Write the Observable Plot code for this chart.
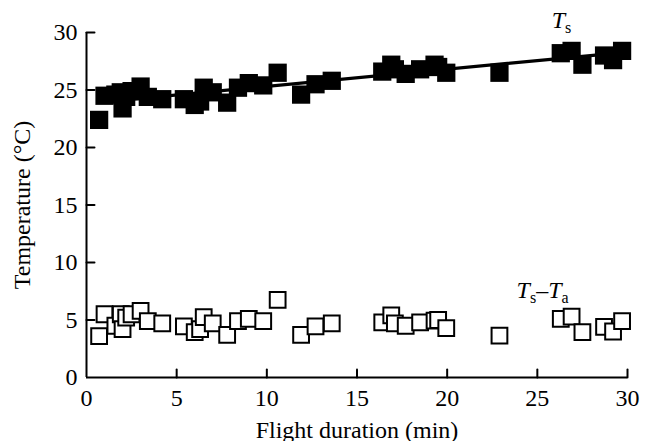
<!DOCTYPE html>
<html><head><meta charset="utf-8">
<script src="https://cdn.jsdelivr.net/npm/d3@7"></script>
<script src="https://cdn.jsdelivr.net/npm/@observablehq/plot@0.6"></script>
<style>body{margin:0;background:#fff}</style>
</head><body><div id="chart"></div>
<script>
// Flight duration (min) for each sample
const flightTime = [0.7, 1.0, 1.6, 1.9, 2.0, 2.2, 2.5, 3.0, 3.4, 4.2, 5.4, 6.0, 6.3, 6.5, 7.0, 7.8, 8.4, 9.0, 9.8, 10.6, 11.9, 12.7, 13.6, 16.4, 16.9, 17.1, 17.7, 18.5, 19.3, 19.5, 19.95, 22.9, 26.3, 26.9, 27.5, 28.7, 29.2, 29.7];
// Ts (filled squares)
const surfaceTemp = [22.4, 24.5, 24.6, 24.8, 23.4, 24.4, 24.9, 25.3, 24.4, 24.2, 24.2, 23.7, 24.0, 25.2, 24.8, 23.9, 25.2, 25.6, 25.4, 26.5, 24.6, 25.5, 25.8, 26.6, 27.2, 26.8, 26.4, 26.8, 27.2, 27.0, 26.5, 26.5, 28.2, 28.4, 27.2, 28.0, 27.6, 28.4];
// Ts - Ta (open squares)
const tempDiff = [3.6, 5.5, 4.5, 5.5, 4.2, 5.2, 5.5, 5.8, 4.9, 4.7, 4.45, 3.95, 4.2, 5.25, 4.7, 3.7, 4.9, 5.1, 4.9, 6.75, 3.7, 4.45, 4.7, 4.8, 5.4, 4.7, 4.5, 4.8, 4.95, 5.0, 4.3, 3.65, 5.1, 5.3, 3.95, 4.4, 4.0, 4.9];
const xTicks = [0, 5, 10, 15, 20, 25, 30];
const yTicks = [0, 5, 10, 15, 20, 25, 30];
const xLabel = "Flight duration (min)";
const yLabel = "Temperature (°C)";
const seriesLabels = ["T_s", "T_s–T_a"];

const rows = flightTime.map((t, i) => ({t, ts: surfaceTemp[i], d: tempDiff[i]}));
const tickShape = {draw(ctx, l) { ctx.moveTo(0, 0); ctx.lineTo(0, -l); }};

const chart = Plot.plot({
  width: 653, height: 441,
  marginLeft: 86, marginRight: 26, marginTop: 32, marginBottom: 64,
  style: {fontFamily: "'Liberation Serif', serif", fontSize: "24px", background: "#fff", color: "#000"},
  x: {domain: [0, 30]},
  y: {domain: [0, 30]},
  marks: [
    Plot.axisX(xTicks, {tickSize: 0, tickPadding: 11, fontSize: 24, label: null}),
    Plot.axisX({ticks: [], tickSize: 0, label: xLabel, labelAnchor: "center", labelArrow: "none", labelOffset: 60, fontSize: 24, dx: -6}),
    Plot.axisY(yTicks, {tickSize: 0, tickPadding: 9, label: yLabel, labelAnchor: "center", labelArrow: "none", labelOffset: 74, fontSize: 24}),
    Plot.vector(xTicks.slice(1), {x: d => d, y: 0, length: 8, rotate: 0, anchor: "start", shape: tickShape, strokeWidth: 2, stroke: "black"}),
    Plot.vector(yTicks.slice(1), {x: 0, y: d => d, length: 8, rotate: 90, anchor: "start", shape: tickShape, strokeWidth: 2, stroke: "black"}),
    Plot.ruleY([0], {strokeWidth: 2}),
    Plot.ruleX([0], {strokeWidth: 2}),
    Plot.dot(rows, {x: "t", y: "d", symbol: "square", r: 8.9, fill: "white", stroke: "black", strokeWidth: 2}),
    Plot.dot(rows, {x: "t", y: "ts", symbol: "square", r: 10.3, fill: "black", stroke: "none"}),
    Plot.linearRegressionY(rows, {x: "t", y: "ts", stroke: "black", strokeWidth: 3.2, ci: 0}),
    Plot.text([seriesLabels[0]], {x: 25.8, y: 30.35, text: d => d, textAnchor: "start", lineAnchor: "bottom", className: "serieslabel", fontSize: 24}),
    Plot.text([seriesLabels[1]], {x: 23.85, y: 6.87, text: d => d, textAnchor: "start", lineAnchor: "bottom", className: "serieslabel", fontSize: 24})
  ]
});
document.getElementById("chart").appendChild(chart);

// rich text: italic T, upright subscripts
d3.select(chart).selectAll(".serieslabel text").each(function() {
  const s = this.textContent;
  const el = d3.select(this);
  el.text("");
  const parts = s.match(/_.|[^_]/g);
  let shifted = false;
  for (const p of parts) {
    if (p[0] === "_") {
      el.append("tspan").attr("font-size", "16px").attr("dy", shifted ? null : 5).text(p[1]);
      shifted = true;
    } else {
      const ts = el.append("tspan").attr("dy", shifted ? -5 : null).text(p);
      if (p === "T") ts.attr("font-style", "italic");
      shifted = false;
    }
  }
});
</script>
</body></html>
